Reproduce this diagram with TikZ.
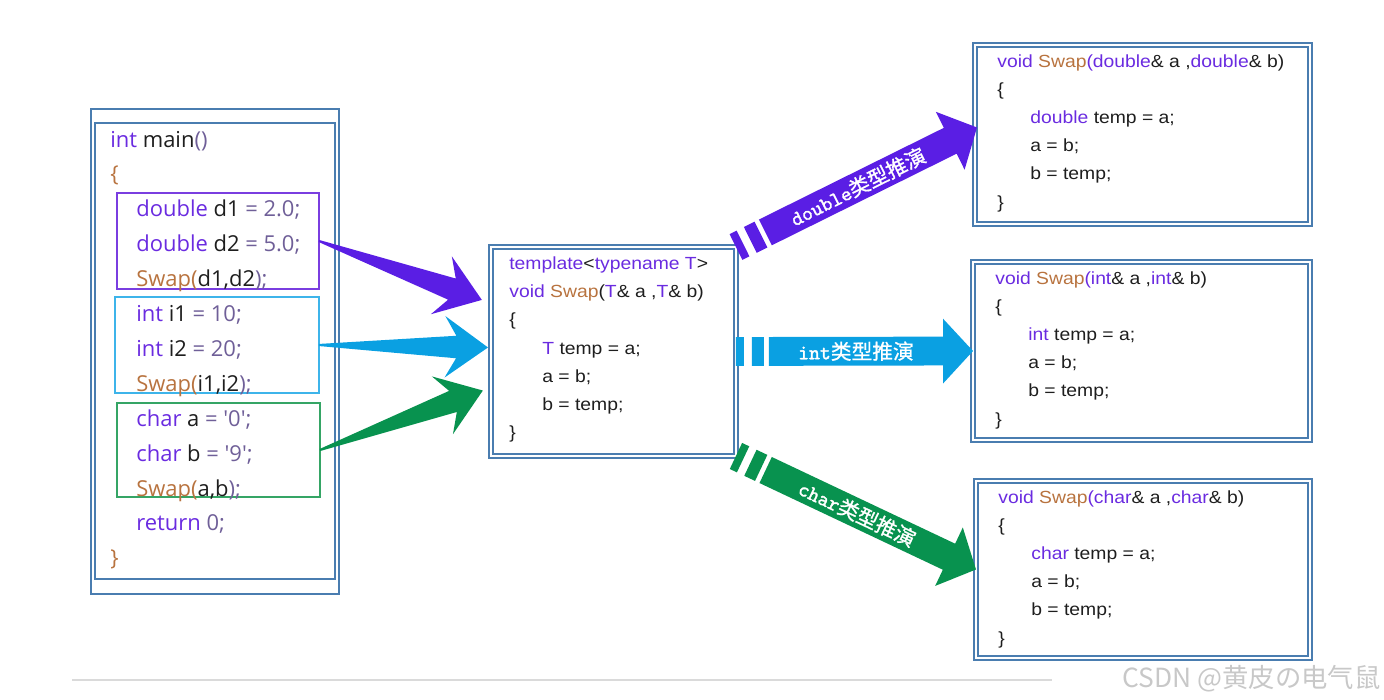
\documentclass[tikz,border=0pt]{standalone}
\usepackage{fontspec}
\usepackage{xcolor}
\usepackage{tikz}
\usetikzlibrary{calc,positioning}

\setmainfont{Liberation Sans}
\newfontfamily\yaheifont{Open Sans}
\newfontfamily\codefont[FakeStretch=1.1]{Liberation Sans}
\newfontfamily\labelmono[FakeBold=1.6]{lmmono10-regular.otf}
\newfontfamily\cjkfont{Noto Sans CJK SC}
\newfontfamily\cjklabel[FakeBold=0.9]{Noto Sans CJK SC}

\definecolor{boxblue}{HTML}{4A7DB0}
\definecolor{kwpurple}{HTML}{6A2BE0}
\definecolor{fnbrown}{HTML}{B8733F}
\definecolor{opgray}{HTML}{6F5F98}
\definecolor{txtdark}{HTML}{1E1E1E}
\definecolor{arrpurple}{HTML}{5A1EE4}
\definecolor{arrcyan}{HTML}{0AA0E2}
\definecolor{arrgreen}{HTML}{08924F}
\definecolor{subpurple}{HTML}{7A3EE0}
\definecolor{subcyan}{HTML}{3DB4EA}
\definecolor{subgreen}{HTML}{35A565}
\definecolor{markgray}{HTML}{C8C8C8}
\definecolor{rulegray}{HTML}{DADADA}

\newcommand{\kw}[1]{\textcolor{kwpurple}{#1}}
\newcommand{\fn}[1]{\textcolor{fnbrown}{#1}}
\newcommand{\op}[1]{\textcolor{opgray}{#1}}
\newcommand{\deduce}[1]{{\labelmono #1}{\cjklabel 类型推演}}

% angle and length from #1 to #2
\newcommand{\getdir}[2]{%
  \path let \p1=($(#2)-(#1)$) in
    \pgfextra{\pgfmathparse{atan2(\y1,\x1)}\xdef\arrang{\pgfmathresult}%
      \pgfmathparse{veclen(\x1,\y1)}\xdef\arrlen{\pgfmathresult}};}

% thin tail, wide head
\newcommand{\taper}[3]{%
  \getdir{#1}{#2}
  \begin{scope}[shift={(#1)}, rotate=\arrang, x=1pt, y=1pt]
    \fill[#3] (0,-0.6) -- (\arrlen-18.1,-6.4) -- (\arrlen-24.5,-17.5) -- (\arrlen,0)
      -- (\arrlen-24.5,17.5) -- (\arrlen-18.1,6.4) -- (0,0.6) -- cycle;
  \end{scope}}

% broken start, label on the shaft
\newcommand{\fatarrow}[5]{%
  \getdir{#1}{#2}
  \begin{scope}[shift={(#1)}, rotate=\arrang, x=1pt, y=1pt]
    \fill[#3] (0,-8.2) rectangle (4.5,8.2);
    \fill[#3] (9.1,-8.2) rectangle (15.9,8.2);
    \fill[#3] (18.7,-8.2) -- (\arrlen-17,-8.2) -- (\arrlen-17,-18.4) -- (\arrlen,0)
      -- (\arrlen-17,18.4) -- (\arrlen-17,8.2) -- (18.7,8.2) -- cycle;
    \node[arrlabel, transform shape] (#4) at ({(\arrlen+1.7)/2},0) {#5};
  \end{scope}}

\begin{document}
\begin{tikzpicture}[
    x=0.02cm, y=-0.02cm,
    dblline/.style={draw=boxblue, double=white, line width=1.1pt, double distance=1.2pt},
    codebox/.style={dblline, anchor=north west, inner sep=0, outer sep=0},
    mainframe/.style={draw=boxblue, line width=1.4pt, anchor=north west, inner sep=0, outer sep=0},
    subbox/.style={line width=1.1pt, anchor=north west, inner sep=0, outer sep=0},
    maintext/.style={anchor=base west, inner sep=0, text=txtdark, font=\yaheifont\fontsize{12.5}{15}\selectfont},
    codetext/.style={anchor=base west, inner sep=0, text=txtdark, font=\codefont\fontsize{10}{12}\selectfont},
    arrlabel/.style={text=white, inner sep=0, font=\fontsize{11.8}{14}\selectfont}
]
\useasboundingbox (0,0) rectangle (1384,700);

% main()
\node[mainframe, minimum width=4.96cm, minimum height=9.7cm] (mainbox) at (91,109) {};
\draw[boxblue, line width=1.4pt] ($(mainbox.north west)+(4,14)$) rectangle ($(mainbox.south east)+(-4,-15)$);
\node[subbox, draw=subpurple, minimum width=4.04cm, minimum height=1.92cm] (subd) at (117,193) {};
\node[subbox, draw=subcyan, minimum width=4.08cm, minimum height=1.92cm] (subi) at (115,297) {};
\node[subbox, draw=subgreen, minimum width=4.06cm, minimum height=1.88cm] (subc) at (117,403) {};
\foreach \dx/\txt [count=\i] in {0/{\kw{int} main\op{()}}, 0/{\fn{\{}},
    26/{\kw{double} d1 \op{= 2.0;}}, 26/{\kw{double} d2 \op{= 5.0;}}, 26/{\fn{Swap(}d1,d2\op{);}},
    26/{\kw{int} i1 \op{= 10;}}, 26/{\kw{int} i2 \op{= 20;}}, 26/{\fn{Swap(}i1,i2\op{);}},
    26/{\kw{char} a \op{= \textquotesingle 0\textquotesingle;}}, 26/{\kw{char} b \op{= \textquotesingle 9\textquotesingle;}},
    26/{\fn{Swap(}a,b\op{);}}, 26/{\kw{return} \op{0;}}, 0/{\fn{\}}}}
  \node[maintext] (m\i) at ($(mainbox.north west)+(19+\dx,{38+(\i-1)*34.9})$) {\txt};

% template
\node[codebox, minimum width=4.9cm, minimum height=4.18cm] (tmpl) at (491,247) {};
\foreach \dx/\txt [count=\i] in {0/{\kw{template}<\kw{typename T}>},
    0/{\kw{void} \fn{Swap}(\kw{T}\& a ,\kw{T}\& b)}, 0/\{,
    33/{\kw{T} temp = a;}, 33/{a = b;}, 33/{b = temp;}, 0/\}}
  \node[codetext] (t\i) at ($(tmpl.north west)+(18+\dx,{22.5+(\i-1)*28.2})$) {\txt};

% deduced versions
\node[codebox, minimum width=6.7cm, minimum height=3.58cm] (dblbox) at (975,45) {};
\node[codebox, minimum width=6.74cm, minimum height=3.56cm] (intbox) at (973,262) {};
\node[codebox, minimum width=6.68cm, minimum height=3.54cm] (charbox) at (976,481) {};
\foreach \bx/\ty in {dblbox/double, intbox/int, charbox/char}
  \foreach \dx/\txt [count=\i] in {0/{\kw{void} \fn{Swap}\kw{(\ty}\& a ,\kw{\ty}\& b)}, 0/\{,
      33/{\kw{\ty} temp = a;}, 33/{a = b;}, 33/{b = temp;}, 0/\}}
    \node[codetext] (\bx-\i) at ($(\bx.north west)+(22+\dx,{22+(\i-1)*28.2})$) {\txt};

% calls -> template
\coordinate (tipd) at ($(tmpl.west)+(-9,-51.5)$);
\coordinate (tipi) at ($(tmpl.west)+(-3,-4)$);
\coordinate (tipc) at ($(tmpl.west)+(-8,39)$);
\taper{subd.east}{tipd}{arrpurple}
\taper{subi.east}{tipi}{arrcyan}
\taper{subc.east}{tipc}{arrgreen}

% template -> deduced
\coordinate (tipdbl) at ($(dblbox.west)+(2,-7)$);
\fatarrow{tmpl.north east}{tipdbl}{arrpurple}{ldbl}{\deduce{double}}
\fatarrow{tmpl.east}{intbox.west}{arrcyan}{lint}{\deduce{int}}
\fatarrow{tmpl.south east}{charbox.west}{arrgreen}{lchar}{\deduce{char}}

% footer
\coordinate (rulel) at (72,680);
\coordinate (ruler) at (1052,680);
\draw[rulegray, line width=0.8pt] (rulel) -- (ruler);
\node[anchor=base east, inner sep=0, text=markgray, font=\cjkfont\fontsize{15}{18}\selectfont] (mark) at (1381,687) {CSDN @黄皮の电气鼠};
\end{tikzpicture}
\end{document}
